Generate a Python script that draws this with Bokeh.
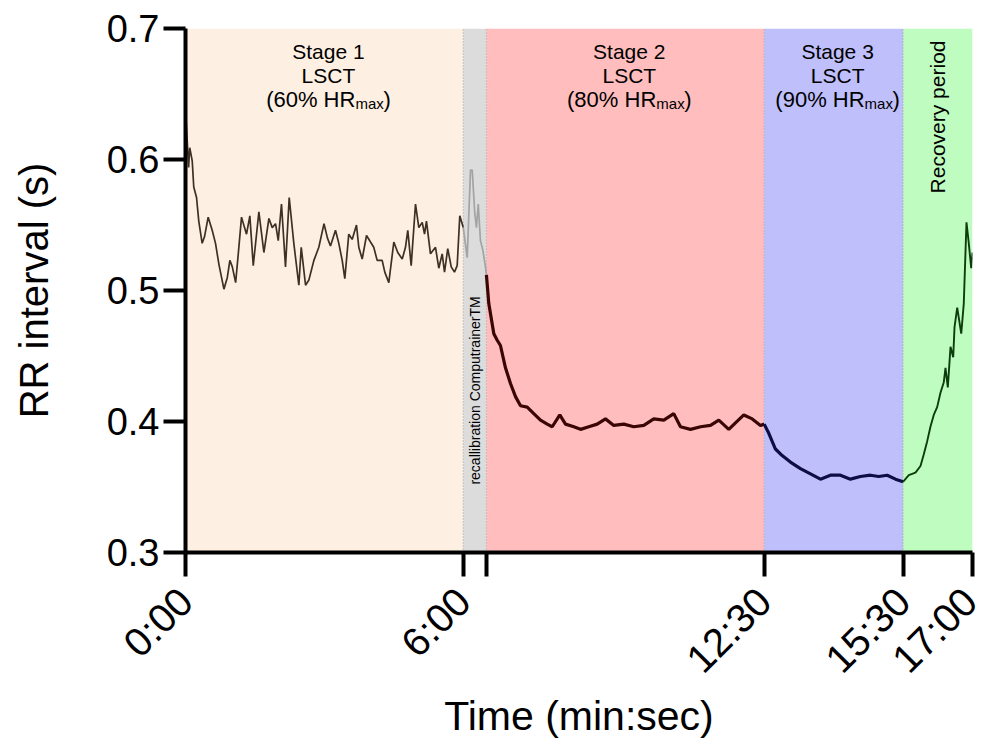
import math
from bokeh.plotting import figure
from bokeh.models import Range1d, FixedTicker
from bokeh.embed import file_html
from bokeh.resources import INLINE
from bokeh.core.properties import value

FONT = "Liberation Sans"

# ---------------- data ----------------
stage_edges = [0, 360, 390, 750, 930, 1020]          # seconds
stage_colors = ["#fdefe1", "#dcdcdc", "#ffbdbd", "#bfbffc", "#bffcbf"]

x_ticks = [0, 360, 390, 750, 930, 1020]
x_tick_labels = ["0:00", "6:00", "", "12:30", "15:30", "17:00"]
y_ticks = [0.3, 0.4, 0.5, 0.6, 0.7]
y_tick_labels = ["0.3", "0.4", "0.5", "0.6", "0.7"]

stage_names = ["Stage 1", "Stage 2", "Stage 3"]
stage_pct = ["(60% HR", "(80% HR", "(90% HR"]

# Stage 1 (0:00 - 6:00)
t1 = [0, 1, 4, 5.5, 8.7, 10.7, 14.3, 17.2, 21.6, 24.6, 29.4, 34.6, 38.9, 43.3, 49.8,
      54.2, 57.5, 60.7, 65, 68.4, 72.6, 76.5, 79.1, 83.4, 87.8, 95.1, 101.6, 108.1,
      112.4, 116.7, 120.2, 124.4, 129.6, 134.4, 140.4, 146.9, 150, 155.6, 159.9,
      166.4, 172.8, 179.5, 184, 187.9, 194.4, 198.7, 203.1, 206.5, 211.6, 216, 221.6,
      224.6, 229, 234.6, 239.8, 244, 248.4, 254.9, 258.3, 263.5, 270, 275.1, 280.9,
      285.1, 288.1, 292.5, 298.1, 302.4, 306.8, 309.8, 312.3, 317.5, 324, 328.3,
      332.7, 335.7, 339.9, 344.4, 348.6, 352.1, 355.5, 358.6, 360]
rr1 = [0.637, 0.628, 0.594, 0.609, 0.599, 0.579, 0.571, 0.553, 0.536, 0.541, 0.556,
       0.546, 0.536, 0.520, 0.501, 0.510, 0.523, 0.518, 0.506, 0.528, 0.556, 0.548,
       0.543, 0.557, 0.519, 0.560, 0.529, 0.555, 0.548, 0.551, 0.538, 0.566, 0.518,
       0.571, 0.536, 0.504, 0.533, 0.504, 0.508, 0.523, 0.533, 0.551, 0.540, 0.534,
       0.546, 0.536, 0.523, 0.509, 0.543, 0.539, 0.550, 0.533, 0.524, 0.542, 0.537,
       0.533, 0.523, 0.523, 0.514, 0.506, 0.537, 0.529, 0.524, 0.533, 0.546, 0.519,
       0.566, 0.548, 0.552, 0.543, 0.553, 0.528, 0.533, 0.517, 0.528, 0.514, 0.532,
       0.518, 0.514, 0.519, 0.557, 0.551, 0.548]

# Recalibration (6:00 - 6:30)
t_rc = [360, 365.1, 369.4, 371.6, 374.9, 377.1, 379.4, 382.3, 385.3, 388.8, 390]
rr_rc = [0.548, 0.525, 0.592, 0.592, 0.559, 0.548, 0.566, 0.538, 0.531, 0.518, 0.512]

# Stage 2 (6:30 - 12:30)
t2 = [390, 393.1, 399.6, 404, 408.2, 414.7, 421.2, 427.7, 434.2, 442.9, 451.4, 460.1,
      468.8, 475.3, 485.1, 492.5, 503.3, 512, 522.7, 533.6, 544.3, 555.1, 568, 581,
      594, 606.9, 619.9, 632.8, 641.5, 654.5, 667.5, 680.4, 691.2, 704.1, 712.8,
      723.6, 734.5, 745.2, 750]
rr2 = [0.512, 0.490, 0.467, 0.462, 0.458, 0.441, 0.429, 0.419, 0.412, 0.411, 0.406,
       0.401, 0.398, 0.396, 0.405, 0.398, 0.396, 0.394, 0.396, 0.398, 0.402, 0.397,
       0.398, 0.396, 0.397, 0.402, 0.401, 0.406, 0.396, 0.394, 0.396, 0.397, 0.401,
       0.394, 0.399, 0.405, 0.402, 0.397, 0.398]

# Stage 3 (12:30 - 15:30)
t3 = [750, 756, 764.6, 773.3, 784, 797, 810, 822.9, 835.9, 848.8, 861.8, 874.7, 887.7,
      898.5, 909.4, 920.2, 930]
rr3 = [0.398, 0.391, 0.379, 0.374, 0.369, 0.364, 0.360, 0.356, 0.359, 0.359, 0.356,
       0.358, 0.359, 0.358, 0.359, 0.356, 0.354]

# Recovery (15:30 - 17:00)
t4 = [930, 937.4, 946.1, 952.6, 956.9, 961.3, 965.5, 969.8, 974.2, 978.5, 982.8, 985,
      988, 991.5, 995, 996.7, 1000.2, 1005.4, 1008.7, 1012.2, 1015.2, 1018.3, 1020]
rr4 = [0.354, 0.359, 0.361, 0.366, 0.375, 0.385, 0.396, 0.405, 0.411, 0.422, 0.430,
       0.441, 0.426, 0.457, 0.449, 0.472, 0.487, 0.467, 0.490, 0.552, 0.536, 0.517,
       0.529]

# ---------------- figure ----------------
p = figure(width=985, height=744, output_backend="svg", toolbar_location=None,
           x_range=Range1d(stage_edges[0], stage_edges[-1]),
           y_range=Range1d(y_ticks[0], y_ticks[-1]),
           min_border_left=185, min_border_right=13, min_border_top=28,
           min_border_bottom=192)
p.grid.visible = False
p.outline_line_color = None
p.background_fill_color = "white"
p.border_fill_color = "white"

# shaded stages
p.quad(left=stage_edges[:-1], right=stage_edges[1:], bottom=y_ticks[0], top=y_ticks[-1],
       fill_color=stage_colors, line_color=None)
# dotted dividers
inner = stage_edges[1:-1]
p.segment(x0=inner, y0=[y_ticks[0]] * len(inner), x1=inner, y1=[y_ticks[-1]] * len(inner),
          line_color="#9c9c9c", line_width=1, line_dash="1 2")

# RR traces
p.line(t1, rr1, line_color="#3d3024", line_width=1.7)
p.line(t_rc, rr_rc, line_color="#a3a3a3", line_width=1.7)
p.line(t2, rr2, line_color="#3a0505", line_width=3.2)
p.line(t3, rr3, line_color="#0e0e45", line_width=3.2)
p.line(t4, rr4, line_color="#0c3d0c", line_width=1.9)

# stage labels
centers = [(stage_edges[0] + stage_edges[1]) / 2,
           (stage_edges[2] + stage_edges[3]) / 2,
           (stage_edges[3] + stage_edges[4]) / 2]
top = [y_ticks[-1]] * 3
common = dict(text_font=value(FONT), text_color="black", text_baseline="alphabetic")
p.text(x=centers, y=top, text=stage_names, y_offset=23, x_offset=4, text_align="center",
       text_font_size="21px", **common)
p.text(x=centers, y=top, text=["LSCT"] * 3, y_offset=47, x_offset=4, text_align="center",
       text_font_size="21px", **common)
p.text(x=centers, y=top, text=stage_pct, y_offset=71, x_offset=31, text_align="right",
       text_font_size="22px", **common)
p.text(x=centers, y=top, text=["max"] * 3, y_offset=75, x_offset=31, text_align="left",
       text_font_size="15px", **common)
p.text(x=centers, y=top, text=[")"] * 3, y_offset=71, x_offset=59, text_align="left",
       text_font_size="22px", **common)

# rotated labels
p.text(x=[(stage_edges[1] + stage_edges[2]) / 2], y=[0.4237],
       text=["recallibration ComputrainerTM"], angle=math.pi / 2,
       text_align="center", text_baseline="middle", text_font=value(FONT),
       text_font_size="14px", text_color="black")
p.text(x=[(stage_edges[4] + stage_edges[5]) / 2], y=[y_ticks[-1]],
       text=["Recovery period"], angle=math.pi / 2, y_offset=12,
       text_align="right", text_baseline="middle", text_font=value(FONT),
       text_font_size="21px", text_color="black")

# axes
for ax in (p.xaxis[0], p.yaxis[0]):
    ax.axis_line_width = 4
    ax.axis_line_color = "black"
    ax.major_tick_line_width = 4
    ax.major_tick_line_color = "black"
    ax.major_tick_in = 0
    ax.minor_tick_line_color = None
    ax.major_label_text_font = FONT
    ax.major_label_text_color = "black"
    ax.axis_label_text_font = FONT
    ax.axis_label_text_font_style = "normal"
    ax.axis_label_text_color = "black"

p.xaxis.ticker = FixedTicker(ticks=x_ticks)
p.xaxis.major_label_overrides = {t: s for t, s in zip(x_ticks, x_tick_labels)}
p.xaxis.major_label_orientation = math.pi / 4
p.xaxis.major_label_text_font_size = "40px"
p.xaxis.major_tick_out = 24
p.xaxis.major_label_standoff = 18
p.xaxis.axis_label = "Time (min:sec)"
p.xaxis.axis_label_text_font_size = "41px"
p.xaxis.axis_label_standoff = -6

p.yaxis.ticker = FixedTicker(ticks=y_ticks)
p.yaxis.major_label_overrides = {t: s for t, s in zip(y_ticks, y_tick_labels)}
p.yaxis.major_label_text_font_size = "38px"
p.yaxis.major_tick_out = 22
p.yaxis.major_label_standoff = 4
p.yaxis.axis_label = "RR interval (s)"
p.yaxis.axis_label_text_font_size = "40px"
p.yaxis.axis_label_standoff = 48

open("out.html", "w").write(file_html(p, INLINE))
